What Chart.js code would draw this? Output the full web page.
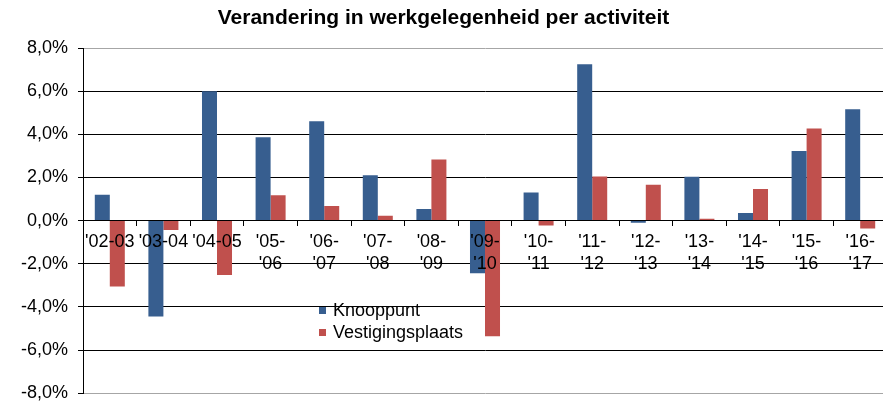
<!DOCTYPE html>
<html>
<head>
<meta charset="utf-8">
<script src="https://cdn.jsdelivr.net/npm/chart.js@4/dist/chart.umd.min.js"></script>
<style>
  html, body { margin: 0; padding: 0; background: #fff; overflow: hidden; }
  #wrap { position: relative; width: 890px; height: 414px; }
  #legend { position: absolute; left: 319px; top: 299px; font: 18px "Liberation Sans", Arial, sans-serif; color: #000; line-height: 22px; }
  #legend .item { display: flex; align-items: center; white-space: nowrap; }
  #legend .sw { width: 7px; height: 7px; margin-right: 7px; display: inline-block; }
</style>
</head>
<body>
<div id="wrap">
  <canvas id="c"></canvas>
  <div id="legend"></div>
</div>
<script>
const categories = [
  "'02-03", "'03-04", "'04-05",
  ["'05-", "'06"], ["'06-", "'07"], ["'07-", "'08"], ["'08-", "'09"],
  ["'09-", "'10"], ["'10-", "'11"], ["'11-", "'12"], ["'12-", "'13"],
  ["'13-", "'14"], ["'14-", "'15"], ["'15-", "'16"], ["'16-", "'17"]
];
const knooppunt        = [1.2, -4.45, 6.0, 3.86, 4.6, 2.1, 0.54, -2.44, 1.3, 7.25, -0.1, 2.03, 0.35, 3.23, 5.16];
const vestigingsplaats = [-3.05, -0.43, -2.52, 1.18, 0.68, 0.22, 2.83, -5.36, -0.23, 2.04, 1.66, 0.09, 1.46, 4.27, -0.37];
const seriesNames = ["Knooppunt", "Vestigingsplaats"];
const seriesColors = ["#375E8F", "#C0504D"];
const yTicks = [-8, -6, -4, -2, 0, 2, 4, 6, 8];
const titleText = "Verandering in werkgelegenheid per activiteit";

const FONT = "'Liberation Sans', Arial, sans-serif";

const chart = new Chart(document.getElementById('c'), {
  type: 'bar',
  data: {
    labels: categories,
    datasets: [
      { label: seriesNames[0], data: knooppunt, backgroundColor: seriesColors[0], categoryPercentage: 0.56, barPercentage: 1.0 },
      { label: seriesNames[1], data: vestigingsplaats, backgroundColor: seriesColors[1], categoryPercentage: 0.56, barPercentage: 1.0 }
    ]
  },
  options: {
    responsive: true,
    maintainAspectRatio: false,
    animation: false,
    layout: { padding: { left: 0, right: 3, top: 0, bottom: 0 } },
    plugins: {
      legend: { display: false },
      tooltip: { enabled: false },
      title: {
        display: true,
        text: titleText,
        color: '#000',
        font: { family: FONT, size: 21, weight: 'bold', lineHeight: 1.2 },
        padding: { top: 5.4, bottom: 17.4 }
      }
    },
    scales: {
      x: {
        position: { y: 0 },
        offset: true,
        grid: { display: true, drawOnChartArea: false, drawTicks: true, tickLength: 5, color: '#000', offset: true },
        border: { display: true, color: '#000', width: 1, z: 1 },
        ticks: {
          color: '#000', padding: 6, maxRotation: 0, minRotation: 0, autoSkip: false, z: 1,
          font: { family: FONT, size: 18, lineHeight: 1.2 }
        }
      },
      y: {
        min: yTicks[0],
        max: yTicks[yTicks.length - 1],
        afterBuildTicks: (s) => { s.ticks = yTicks.map(v => ({ value: v })); },
        afterFit: (s) => { s.width = 83; },
        grid: {
          color: (ctx) => (ctx.tick && Math.abs(ctx.tick.value) === 8) ? '#A6A6A6' : '#000',
          tickColor: '#000',
          tickLength: 5,
          lineWidth: 1
        },
        border: { display: true, color: '#000', width: 1 },
        ticks: {
          color: '#000', padding: 10,
          font: { family: FONT, size: 18 },
          callback: (v) => v.toFixed(1).replace('.', ',') + '%'
        }
      }
    }
  }
});

const lg = document.getElementById('legend');
chart.data.datasets.forEach((ds) => {
  const it = document.createElement('div');
  it.className = 'item';
  const sw = document.createElement('span');
  sw.className = 'sw';
  sw.style.background = ds.backgroundColor;
  const tx = document.createElement('span');
  tx.textContent = ds.label;
  it.appendChild(sw);
  it.appendChild(tx);
  lg.appendChild(it);
});
</script>
</body>
</html>
